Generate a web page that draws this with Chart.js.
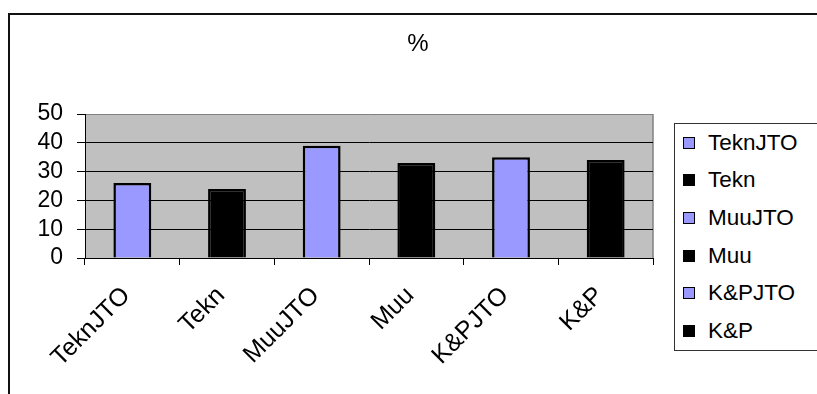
<!DOCTYPE html>
<html>
<head>
<meta charset="utf-8">
<script src="https://cdn.jsdelivr.net/npm/chart.js@4.4.0/dist/chart.umd.min.js"></script>
<style>
  body { margin: 0; background: #fff; font-family: Arial, "Liberation Sans", sans-serif; }
  #wrap { position: relative; width: 817px; height: 394px; overflow: hidden; }
  #frame { position: absolute; left: 8px; top: 13px; width: 900px; height: 500px; border-left: 2px solid #111; border-top: 2px solid #111; }
  #title { position: absolute; left: 368px; width: 100px; top: 29px; line-height: 28px; text-align: center; font-size: 24px; color: #000; }
  #legend { position: absolute; left: 674px; top: 123px; width: 200px; height: 226px; border: 1px solid #333; background: #fff; }
  .item { height: 37.6px; display: flex; align-items: center; font-size: 22.5px; color: #000; }
  .sw { width: 10px; height: 10px; border: 1px solid #000; margin-left: 8px; margin-right: 13px; }
  canvas { position: absolute; left: 0; top: 0; }
</style>
</head>
<body>
<div id="wrap">
  <div id="frame"></div>
  <canvas id="chart" width="817" height="394"></canvas>
  <div id="title">%</div>
  <div id="legend"></div>
</div>
<script>
const categories = ['TeknJTO', 'Tekn', 'MuuJTO', 'Muu', 'K&PJTO', 'K&P'];
const values = [26, 24, 39, 33, 35, 34];
const barColors = ['#9999ff', '#000000', '#9999ff', '#000000', '#9999ff', '#000000'];
const yTicks = [0, 10, 20, 30, 40, 50];

Chart.defaults.font.family = 'Arial, "Liberation Sans", sans-serif';

// legend built from the same arrays
const legendEl = document.getElementById('legend');
categories.forEach(function (name, i) {
    const row = document.createElement('div');
    row.className = 'item';
    const sw = document.createElement('span');
    sw.className = 'sw';
    sw.style.background = barColors[i];
    const txt = document.createElement('span');
    txt.textContent = name;
    row.appendChild(sw);
    row.appendChild(txt);
    legendEl.appendChild(row);
});

const plotBg = {
    id: 'plotBg',
    beforeDraw: function (chart) {
        const a = chart.chartArea;
        const ctx = chart.ctx;
        ctx.save();
        ctx.fillStyle = '#c0c0c0';
        ctx.fillRect(a.left, a.top, a.width, a.height);
        ctx.strokeStyle = '#808080';
        ctx.lineWidth = 1.5;
        ctx.beginPath();
        ctx.moveTo(a.right, a.top);
        ctx.lineTo(a.right, a.bottom);
        ctx.stroke();
        ctx.restore();
    }
};

let ctx = document.getElementById('chart').getContext('2d');
new Chart(ctx, {
    type: 'bar',
    data: {
        labels: categories,
        datasets: [{
            label: '%',
            data: values,
            backgroundColor: barColors,
            borderColor: '#000',
            borderWidth: 2.5,
            barPercentage: 0.4,
            categoryPercentage: 1
        }]
    },
    options: {
        responsive: false,
        animation: false,
        layout: { padding: { top: 114, right: 164, left: 0, bottom: 0 } },
        plugins: {
            legend: { display: false },
            title: { display: false },
            tooltip: { enabled: false }
        },
        scales: {
            x: {
                grid: { offset: true, drawOnChartArea: false, color: '#000', tickLength: 7 },
                border: { color: '#000', width: 1 },
                ticks: { color: '#000', font: { size: 25 }, minRotation: 45, maxRotation: 45, padding: 16, labelOffset: -6, autoSkip: false },
                afterFit: function (s) { s.height = 136; }
            },
            y: {
                min: yTicks[0],
                max: yTicks[yTicks.length - 1],
                afterBuildTicks: function (s) { s.ticks = yTicks.map(function (v) { return { value: v }; }); },
                ticks: { color: '#000', font: { size: 23 }, padding: 14, autoSkip: false },
                grid: {
                    color: function (c) { return c.tick && c.tick.value === 50 ? '#808080' : '#000'; },
                    tickColor: '#000',
                    tickLength: 8
                },
                border: { color: '#000', width: 1 },
                afterFit: function (s) { s.width = 85; }
            }
        }
    },
    plugins: [plotBg]
});
</script>
</body>
</html>
